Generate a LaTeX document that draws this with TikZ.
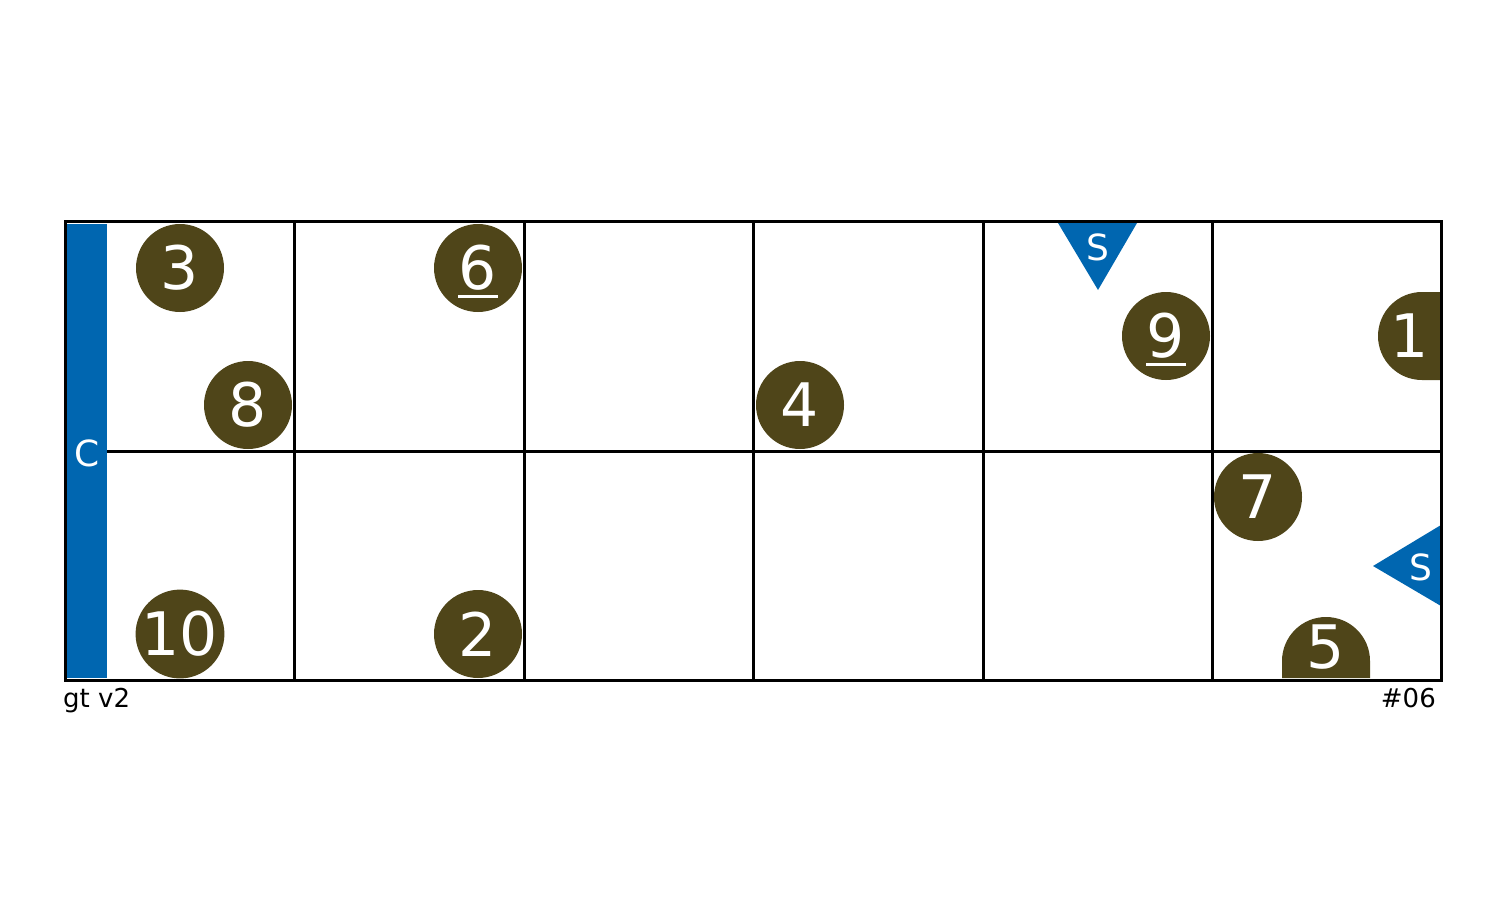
\documentclass[tikz,border=0pt]{standalone}
\usepackage{fontspec}
\setmainfont{DejaVu Sans}
\definecolor{tok}{HTML}{4F4519}
\definecolor{cblue}{HTML}{0066B0}
\tikzset{
  gridline/.style={line width=3pt, draw=black},
  tokcirc/.style={circle, fill=tok, minimum size=88pt, inner sep=0pt, text=white, font=\fontsize{60}{62}\selectfont},
  toktxt/.style={inner sep=0pt, text=white, font=\fontsize{60}{62}\selectfont},
  lbl/.style={inner sep=0pt, text=white, font=\fontsize{36}{40}\selectfont},
  foot/.style={inner sep=0pt, text=black, font=\fontsize{26}{28}\selectfont},
  uline/.style={line width=3pt, draw=white}
}
\begin{document}
\begin{tikzpicture}[x=1pt,y=-1pt]
\useasboundingbox (0,0) rectangle (1503,902);
% inner grid lines
\foreach \xx in {294,524,753,983,1212} \draw[gridline] (\xx,221) -- (\xx,680);
\draw[gridline] (65,451) -- (1441,451);
% C bar
\fill[cblue] (67,224) rectangle (107,678);
\node[lbl] (c) at (87,453) {C};
% tokens
\node[tokcirc] (t3) at (180,268) {3};
\node[tokcirc] (t6) at (478,268) {6};
\draw[uline] (458,296) -- (498,296);
\node[tokcirc] (t8) at (248,405) {8};
\node[tokcirc] (t4) at (800,405) {4};
\node[tokcirc] (t9) at (1166,336) {9};
\draw[uline] (1146,364) -- (1186,364);
\node[tokcirc] (t7) at (1258,497) {7};
\node[tokcirc] (t10) at (180,634) {10};
\node[tokcirc] (t2) at (478,634) {2};
% clipped token 1
\fill[tok] (1441,292) -- (1422,292) arc[start angle=270, end angle=90, radius=44] -- (1441,380) -- cycle;
\node[toktxt] (t1) at (1410,336) {1};
% clipped token 5
\fill[tok] (1282,678) -- (1282,661) arc[start angle=180, end angle=360, radius=44] -- (1370,678) -- cycle;
\node[toktxt] (t5) at (1326,647) {5};
% S triangles
\fill[cblue] (1058,223) -- (1137,223) -- (1098,290) -- cycle;
\node[lbl] (s1) at (1098,247) {S};
\fill[cblue] (1441,525) -- (1441,606) -- (1373,566) -- cycle;
\node[lbl] (s2) at (1421,567) {S};
% outer border
\draw[gridline] (65,221) rectangle (1441,680);
% footer labels
\node[foot, anchor=north west] (gt) at (63,688) {gt v2};
\node[foot, anchor=north east] (num) at (1436,688) {\#06};
\end{tikzpicture}
\end{document}
